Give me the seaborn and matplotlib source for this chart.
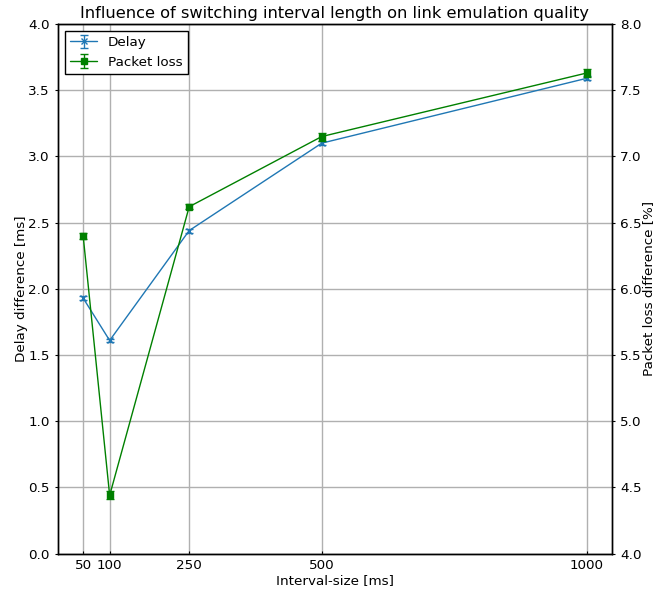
import numpy as np
import seaborn as sns
import matplotlib.pyplot as plt

interval = [50, 100, 250, 500, 1000]
delay = [1.93, 1.61, 2.44, 3.10, 3.59]
delay_err = [0.015, 0.01, 0.015, 0.015, 0.015]
loss = [6.40, 4.44, 6.62, 7.15, 7.63]
loss_err = [0.02, 0.03, 0.02, 0.03, 0.03]

sns.set_style('ticks')
plt.rcParams['font.family'] = ['DejaVu Sans']
plt.rcParams['text.color'] = 'black'
plt.rcParams['axes.labelcolor'] = 'black'

fig, ax = plt.subplots(figsize=(6.64, 5.92), dpi=100)
ax2 = ax.twinx()

h1 = ax.errorbar(interval, delay, yerr=delay_err, color='#1f77b4', marker='x',
                 markersize=4, linewidth=1, capsize=3, label='Delay')
h2 = ax2.errorbar(interval, loss, yerr=loss_err, color='green', marker='s',
                  markersize=4.5, linewidth=1, capsize=3, label='Packet loss')

ax.set_xticks(interval)
ax.set_xlim(2.5, 1047.5)
ax.set_ylim(0, 4)
ax.set_yticks(np.arange(0, 4.01, 0.5))
ax2.set_ylim(4, 8)
ax2.set_yticks(np.arange(4, 8.01, 0.5))
ax.grid(True, color='#b0b0b0', linewidth=1)
ax.set_axisbelow(True)

ax.set_xlabel('Interval-size [ms]', fontsize=9.7, labelpad=2)
ax.set_ylabel('Delay difference [ms]', fontsize=9.7, labelpad=0)
ax2.set_ylabel('Packet loss difference [%]', fontsize=9.7, labelpad=0)
ax.set_title('Influence of switching interval length on link emulation quality',
             fontsize=11.7, pad=4)

for a in (ax, ax2):
    for s in a.spines.values():
        s.set_color('black')
        s.set_linewidth(1)
    a.tick_params(axis='y', colors='black', labelsize=9.7, direction='out', length=2.5)
ax.tick_params(axis='x', colors='black', labelsize=9.7, direction='in', length=2.5)

leg = ax.legend([h1, h2], ['Delay', 'Packet loss'], loc='upper left',
                fancybox=False, edgecolor='black', framealpha=1, fontsize=9.7)
leg.get_frame().set_linewidth(1)

fig.subplots_adjust(left=0.0873, right=0.9217, top=0.9595, bottom=0.0647)
fig.savefig('out.png', dpi=100)
